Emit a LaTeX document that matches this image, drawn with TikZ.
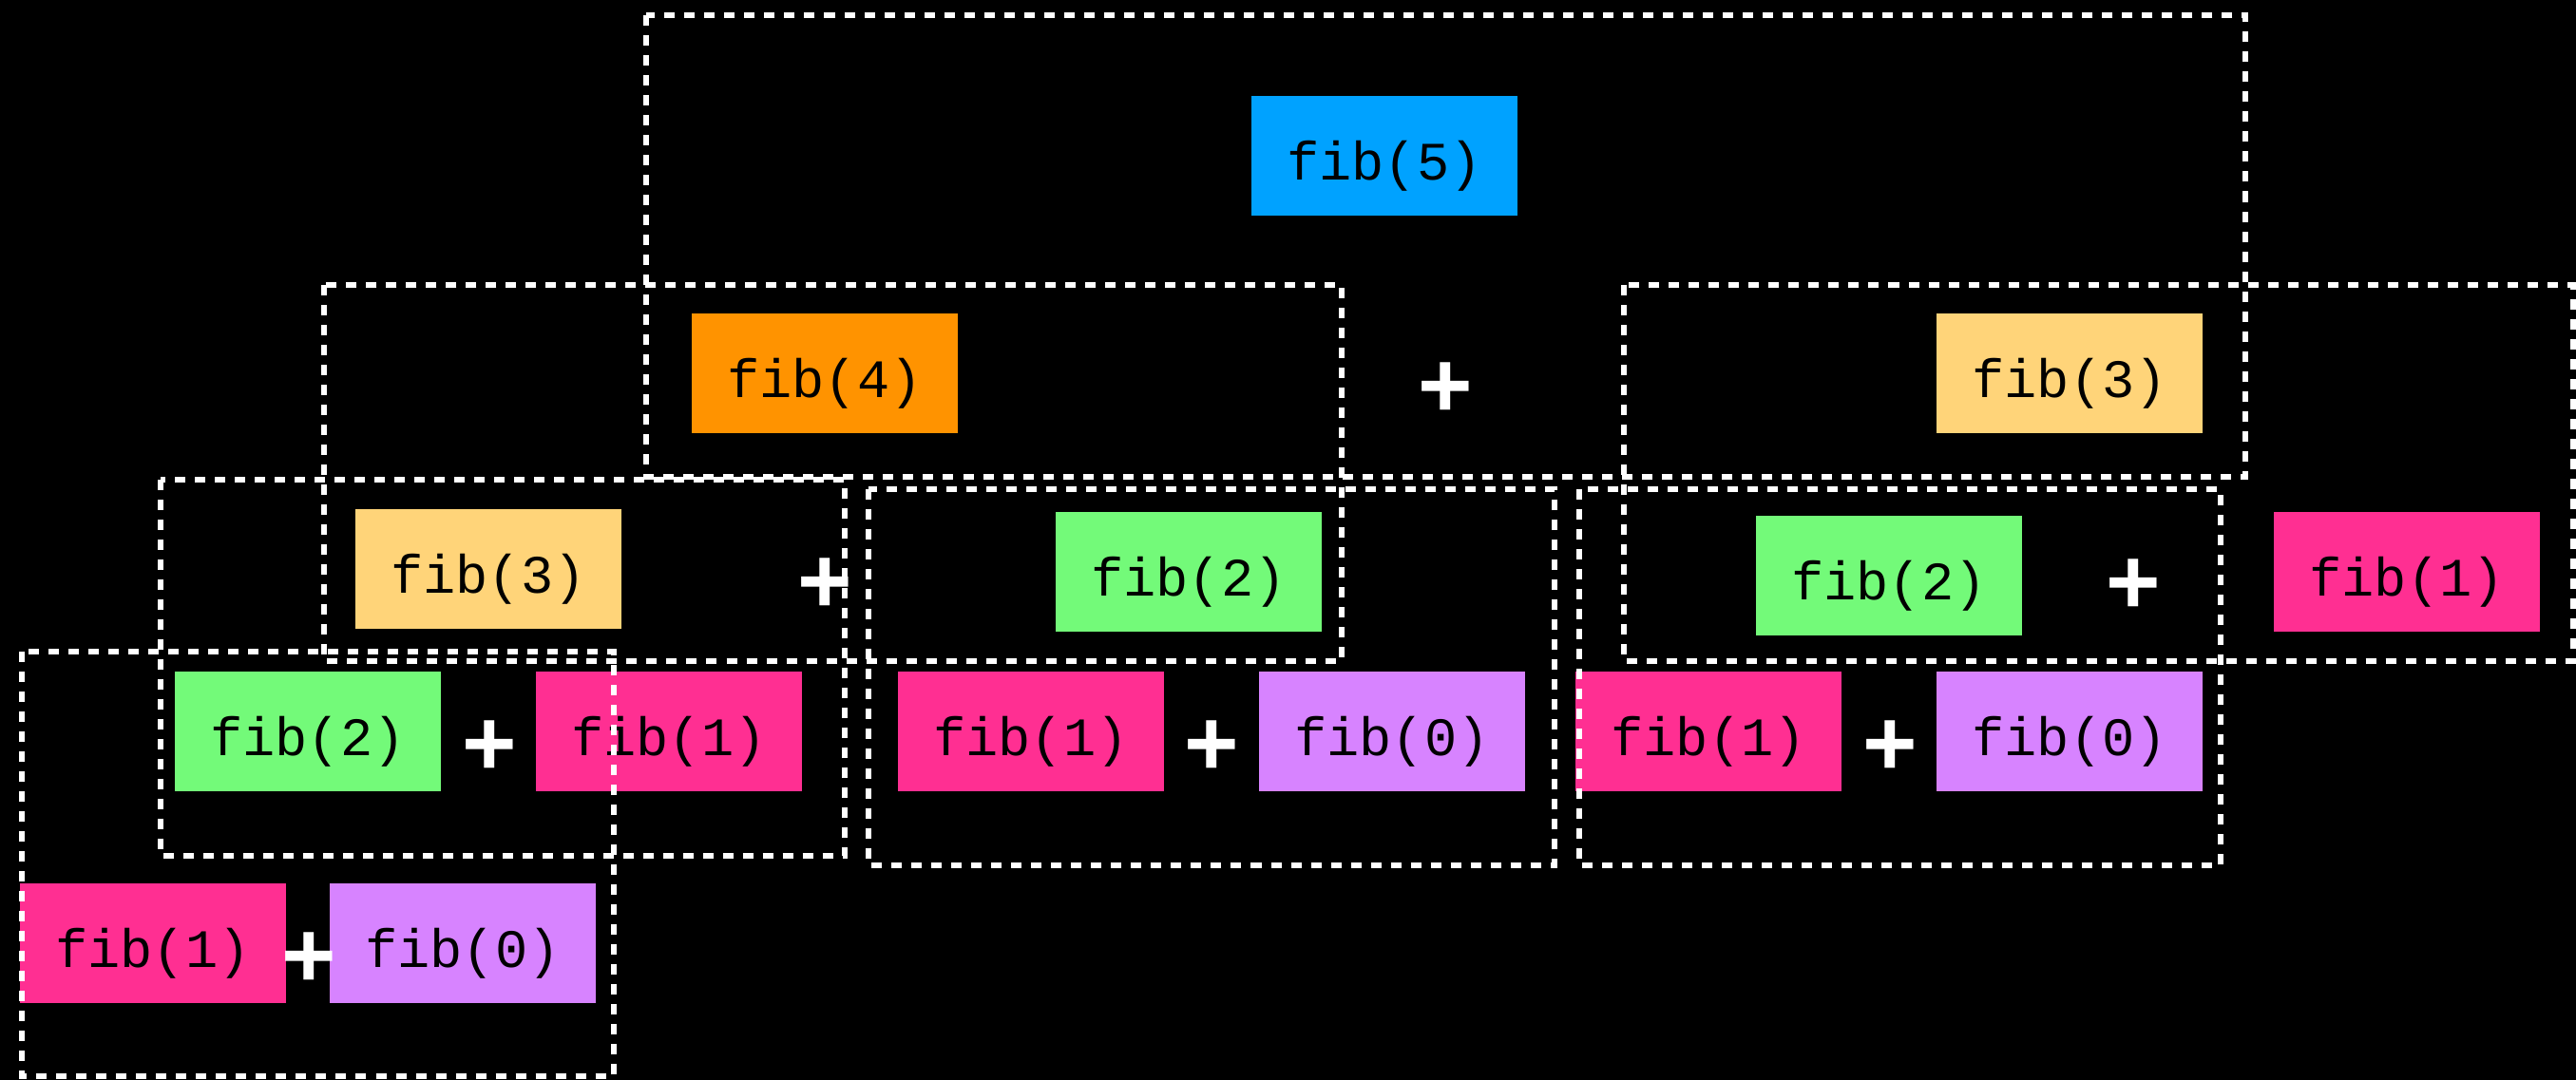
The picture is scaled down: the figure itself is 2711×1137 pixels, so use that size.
\documentclass[tikz,border=0pt]{standalone}
\usepackage{fontspec}
\setmonofont{Liberation Mono}
\newfontfamily\plusfont{Liberation Sans}

\definecolor{cfive}{HTML}{00A2FF}
\definecolor{cfour}{HTML}{FF9300}
\definecolor{cthree}{HTML}{FFD479}
\definecolor{ctwo}{HTML}{73FA79}
\definecolor{cone}{HTML}{FF2F92}
\definecolor{czero}{HTML}{D783FF}

\begin{document}
\begin{tikzpicture}[x=0.01cm,y=-0.01cm,
                    call/.style={rectangle,inner sep=0pt,minimum width=2.79cm,
                      minimum height=1.26cm,text height=14.6pt,text depth=0pt,
                      font=\ttfamily\fontsize{16.2}{17}\selectfont},
                    plusmark/.style={inner sep=0pt,text=white,yshift=-1.5pt,
                      font=\plusfont\bfseries\fontsize{28}{28}\selectfont},
                    callframe/.style={draw=white,line width=1.5pt,
                      dash pattern=on 0.11cm off 0.1cm}]

  \fill[black] (0,0) rectangle (2711,1137);
  \useasboundingbox (0,0) rectangle (2711,1137);

  % calls, one row per depth
  \node[call,fill=cfive]  (f5)  at (1457,164) {fib(5)};
  \node[call,fill=cfour]  (f4)  at (868,393)  {fib(4)};
  \node[call,fill=cthree] (f3b) at (2178,393) {fib(3)};
  \node[call,fill=cthree] (f3a) at (514,599)  {fib(3)};
  \node[call,fill=ctwo]   (f2b) at (1251,602) {fib(2)};
  \node[call,fill=ctwo]   (f2c) at (1988,606) {fib(2)};
  \node[call,fill=cone]   (f1e) at (2533,602) {fib(1)};
  \node[call,fill=ctwo]   (f2a) at (324,770)  {fib(2)};
  \node[call,fill=cone]   (f1b) at (704,770)  {fib(1)};
  \node[call,fill=cone]   (f1c) at (1085,770) {fib(1)};
  \node[call,fill=czero]  (f0b) at (1465,770) {fib(0)};
  \node[call,fill=cone]   (f1d) at (1798,770) {fib(1)};
  \node[call,fill=czero]  (f0c) at (2178,770) {fib(0)};
  \node[call,fill=cone]   (f1a) at (161,993)  {fib(1)};
  \node[call,fill=czero]  (f0a) at (487,993)  {fib(0)};

  % sums
  \node[plusmark] (p5)  at (1521,405) {+};
  \node[plusmark] (p4)  at (868,611)  {+};
  \node[plusmark] (p3b) at (2245,612) {+};
  \node[plusmark] (p3a) at (515,782)  {+};
  \node[plusmark] (p2b) at (1275,782) {+};
  \node[plusmark] (p2c) at (1989,782) {+};
  \node[plusmark] (p2a) at (325,1005) {+};

  % one dashed frame per expanded call
  \draw[callframe] (680,16)   rectangle (2363,502);
  \draw[callframe] (341,300)  rectangle (1412,696);
  \draw[callframe] (1709,300) rectangle (2708,696);
  \draw[callframe] (169,505)  rectangle (889,901);
  \draw[callframe] (914,515)  rectangle (1636,911);
  \draw[callframe] (1662,515) rectangle (2337,911);
  \draw[callframe] (23,686)   rectangle (646,1133);
\end{tikzpicture}
\end{document}
